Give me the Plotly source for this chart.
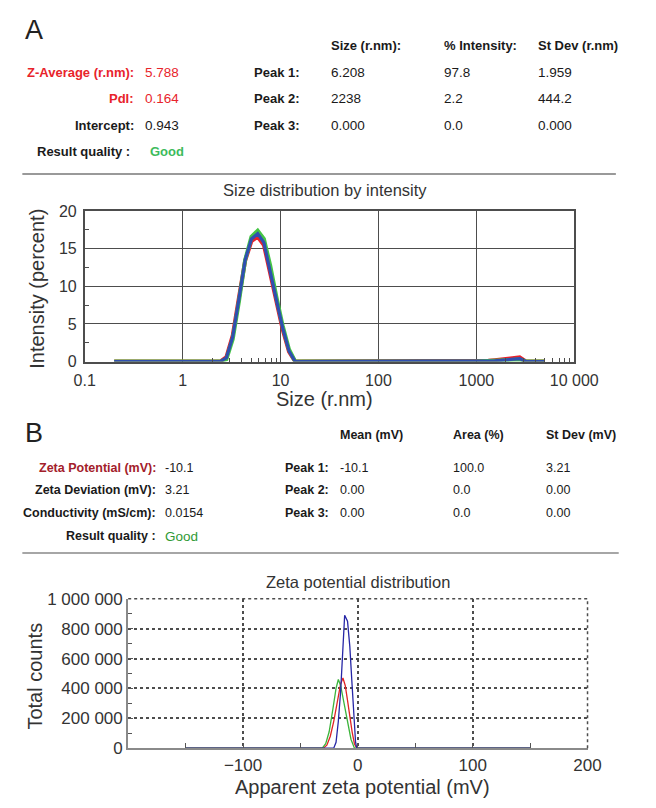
import plotly.graph_objects as go

W, H = 656, 808
FONT = "Liberation Sans, Arial, sans-serif"

# ---------------- data: size distribution (r.nm) ----------------
size_x = [0.2, 2.42, 2.80, 3.25, 3.76, 4.35, 5.04, 5.84, 6.76, 7.83, 9.07, 10.5, 12.2, 14.1,
          991, 1146, 1327, 1537, 1780, 2061, 2387, 2765, 3201, 4970]
size_red = [0, 0, 0.6, 3.5, 8.5, 13.4, 16.0, 16.6, 15.5, 12.0, 8.0, 4.3, 1.3, 0,
            0, 0.05, 0.1, 0.18, 0.26, 0.35, 0.45, 0.55, 0, 0]
size_green = [0, 0, 0.3, 3.0, 8.0, 13.5, 16.6, 17.4, 16.3, 12.8, 8.6, 4.8, 1.6, 0,
              0, 0.02, 0.04, 0.08, 0.12, 0.17, 0.22, 0.28, 0, 0]
size_blue = [0, 0, 0.5, 3.3, 8.3, 13.5, 16.3, 17.0, 15.8, 12.2, 8.2, 4.5, 1.4, 0,
             0, 0.03, 0.06, 0.1, 0.15, 0.22, 0.3, 0.38, 0, 0]
size_tickvals = [0.1, 1, 10, 100, 1000, 10000]
size_ticktext = ["0.1", "1", "10", "100", "1000", "10 000"]
int_tickvals = [0, 5, 10, 15, 20]

# ---------------- data: zeta potential ----------------
zeta_red_x = [-150, -30, -27, -24, -21, -18, -15, -13, -11, -9, -7, -5, -3, -1, 150]
zeta_red_y = [0, 0, 20000, 80000, 180000, 300000, 430000, 470000, 420000, 320000, 210000, 110000, 30000, 0, 0]
zeta_green_x = [-150, -31, -28, -25, -22, -19, -17, -15, -12, -9, -6, -3, 150]
zeta_green_y = [0, 0, 30000, 110000, 250000, 400000, 460000, 420000, 300000, 170000, 60000, 0, 0]
zeta_blue_x = [-150, -21, -19, -17, -15, -13, -11.5, -9, -7, -5, -3.5, -2, -1, 150]
zeta_blue_y = [0, 0, 40000, 180000, 380000, 700000, 890000, 850000, 680000, 420000, 200000, 40000, 0, 0]
zeta_tickvals = [-100, 0, 100, 200]
zeta_ticktext = ["\u2212100", "0", "100", "200"]
count_tickvals = [0, 200000, 400000, 600000, 800000, 1000000]
count_ticktext = ["0", "200 000", "400 000", "600 000", "800 000", "1 000 000"]

# ---------------- table texts ----------------
a_headers = ["Size (r.nm):", "% Intensity:", "St Dev (r.nm)"]
a_left_labels = ["Z-Average (r.nm):", "PdI:", "Intercept:"]
a_left_values = ["5.788", "0.164", "0.943"]
a_peak_labels = ["Peak 1:", "Peak 2:", "Peak 3:"]
a_peak_size = ["6.208", "2238", "0.000"]
a_peak_int = ["97.8", "2.2", "0.0"]
a_peak_sd = ["1.959", "444.2", "0.000"]

b_headers = ["Mean (mV)", "Area (%)", "St Dev (mV)"]
b_left_labels = ["Zeta Potential (mV):", "Zeta Deviation (mV):", "Conductivity (mS/cm):"]
b_left_values = ["-10.1", "3.21", "0.0154"]
b_peak_labels = ["Peak 1:", "Peak 2:", "Peak 3:"]
b_peak_mean = ["-10.1", "0.00", "0.00"]
b_peak_area = ["100.0", "0.0", "0.0"]
b_peak_sd = ["3.21", "0.00", "0.00"]


def px(x):
    return x / W


def py(y):
    return 1 - y / H


anns = []


def T(x, y, text, size=13, bold=False, color="#1a1a1a", xanchor="left", angle=0):
    anns.append(dict(
        x=px(x), y=py(y), xref="paper", yref="paper",
        text=("<b>%s</b>" % text) if bold else text,
        showarrow=False, xanchor=xanchor, yanchor="middle", textangle=angle,
        borderpad=0,
        font=dict(family=FONT, size=size, color=color)))


RED = "#e8242b"
GREEN_A = "#3dbb5c"
DARKRED = "#a3202a"
GREEN_B = "#2f9a35"

# Section A
T(14, 22, "A", size=27, color="#222")
for xx, t in zip([338, 457, 557], a_headers):
    T(xx, 37, t, bold=True, size=13)
rows_a = [65, 92, 119]
for i, yy in enumerate(rows_a):
    col = RED if i < 2 else "#1a1a1a"
    T(131, yy, a_left_labels[i], bold=True, color=col, xanchor="right")
    T(141, yy, a_left_values[i], color=col, size=13.5)
    T(307, yy, a_peak_labels[i], bold=True, xanchor="right")
    T(338, yy, a_peak_size[i], size=13.5)
    T(457, yy, a_peak_int[i], size=13.5)
    T(557, yy, a_peak_sd[i], size=13.5)
T(127, 146, "Result quality :", bold=True, xanchor="right")
T(146, 146, "Good", bold=True, color=GREEN_A)

# Section B
T(14, 434, "B", size=27, color="#222")
for xx, t in zip([347, 467, 565], b_headers):
    T(xx, 436, t, bold=True, size=12.5)
rows_b = [470, 493, 516]
for i, yy in enumerate(rows_b):
    col = DARKRED if i == 0 else "#1a1a1a"
    T(155, yy, b_left_labels[i], bold=True, color=col, xanchor="right", size=12.5)
    T(162, yy, b_left_values[i], size=12.5)
    T(337, yy, b_peak_labels[i], bold=True, xanchor="right", size=12.5)
    T(347, yy, b_peak_mean[i], size=12.5)
    T(467, yy, b_peak_area[i], size=12.5)
    T(565, yy, b_peak_sd[i], size=12.5)
T(155, 540, "Result quality :", bold=True, xanchor="right", size=12.5)
T(162, 540, "Good", color=GREEN_B, size=13.5)

# chart titles and axis titles
T(332, 185, "Size distribution by intensity", size=16.5, color="#333", xanchor="center")
T(28, 286, "Intensity (percent)", size=20, color="#333", xanchor="center", angle=-90)
T(332, 399, "Size (r.nm)", size=20, color="#333", xanchor="center")
T(367, 587, "Zeta potential distribution", size=16.5, color="#333", xanchor="center")
T(25, 683, "Total counts", size=20, color="#333", xanchor="center", angle=-90)
T(372, 797, "Apparent zeta potential (mV)", size=20, color="#333", xanchor="center")

fig = go.Figure()

for yv, c, w in [(size_red, "#e8202a", 4), (size_green, "#45c545", 4), (size_blue, "#2f4fb0", 3.2)]:
    fig.add_trace(go.Scatter(x=size_x, y=yv, mode="lines", line=dict(color=c, width=w),
                             xaxis="x", yaxis="y", showlegend=False, hoverinfo="skip"))

for xv, yv, c in [(zeta_red_x, zeta_red_y, "#e02424"), (zeta_green_x, zeta_green_y, "#3cb43c"),
                  (zeta_blue_x, zeta_blue_y, "#2626a6")]:
    fig.add_trace(go.Scatter(x=xv, y=yv, mode="lines", line=dict(color=c, width=1.3),
                             xaxis="x2", yaxis="y2", showlegend=False, hoverinfo="skip"))

tickfont = dict(family=FONT, size=17, color="#333")
tickfont_s = dict(family=FONT, size=16, color="#333")
GRID = "#4d4d4d"

# plot domains (pixels)
s_l, s_r, s_t, s_b = 78, 596, 207, 361
z_l, z_r, z_t, z_b = 124, 610, 604, 757

fig.update_layout(
    width=W, height=H, margin=dict(l=0, r=0, t=0, b=0),
    paper_bgcolor="white", plot_bgcolor="white",
    annotations=anns,
    xaxis=dict(type="log", domain=[px(s_l), px(s_r)], range=[-1, 4],
               tickvals=size_tickvals, ticktext=size_ticktext, tickfont=tickfont_s,
               ticklabelstandoff=3,
               showgrid=True, gridcolor=GRID, gridwidth=1.4,
               showline=True, linecolor=GRID, linewidth=1.6, mirror=True,
               ticks="", zeroline=False, anchor="y",
               minor=dict(tickvals=[2, 3, 4, 5, 6, 7, 8, 9, 2000, 3000, 4000, 5000, 6000, 7000, 8000, 9000],
                          ticks="inside", ticklen=4, tickcolor=GRID, showgrid=False)),
    yaxis=dict(domain=[py(s_b), py(s_t)], range=[0, 20], tickvals=int_tickvals,
               tickfont=tickfont_s, ticklabelstandoff=3,
               showgrid=True, gridcolor=GRID, gridwidth=1.4,
               showline=True, linecolor=GRID, linewidth=1.6, mirror=True,
               ticks="", zeroline=False, anchor="x",
               minor=dict(tickvals=[2.5, 7.5, 12.5, 17.5], ticks="inside", ticklen=4,
                          tickcolor=GRID, showgrid=False)),
    xaxis2=dict(domain=[px(z_l), px(z_r)], range=[-200, 200], tickvals=zeta_tickvals,
                ticktext=zeta_ticktext, tickfont=tickfont,
                showgrid=True, gridcolor=GRID, gridwidth=1.5, griddash="dot",
                showline=True, linecolor="#8a8a8a", linewidth=2,
                ticks="inside", ticklen=5, tickcolor="#555", zeroline=False, anchor="y2",
                minor=dict(tickvals=[-150, -50, 50, 150], ticks="inside", ticklen=5,
                           tickcolor="#555", showgrid=False)),
    yaxis2=dict(domain=[py(z_b), py(z_t)], range=[0, 1000000], tickvals=count_tickvals,
                ticktext=count_ticktext, tickfont=tickfont,
                showgrid=True, gridcolor=GRID, gridwidth=1.5, griddash="dot",
                showline=True, linecolor="#8a8a8a", linewidth=2,
                ticks="inside", ticklen=5, tickcolor="#555", zeroline=False, anchor="x2",
                minor=dict(tickvals=[100000, 300000, 500000, 700000, 900000], ticks="inside",
                           ticklen=4, tickcolor="#555", showgrid=False)),
    shapes=[
        dict(type="line", xref="paper", yref="paper", x0=px(12), x1=px(640), y0=py(169), y1=py(169),
             line=dict(color="#777", width=1.5)),
        dict(type="line", xref="paper", yref="paper", x0=px(12), x1=px(643), y0=py(557), y1=py(557),
             line=dict(color="#888", width=1.5)),
        dict(type="line", xref="paper", yref="paper", x0=px(z_l), x1=px(z_r), y0=py(z_t), y1=py(z_t),
             line=dict(color=GRID, width=1.5, dash="dot")),
        dict(type="line", xref="paper", yref="paper", x0=px(z_r), x1=px(z_r), y0=py(z_b), y1=py(z_t),
             line=dict(color=GRID, width=1.5, dash="dot")),
    ],
)

fig.write_html("out.html")
